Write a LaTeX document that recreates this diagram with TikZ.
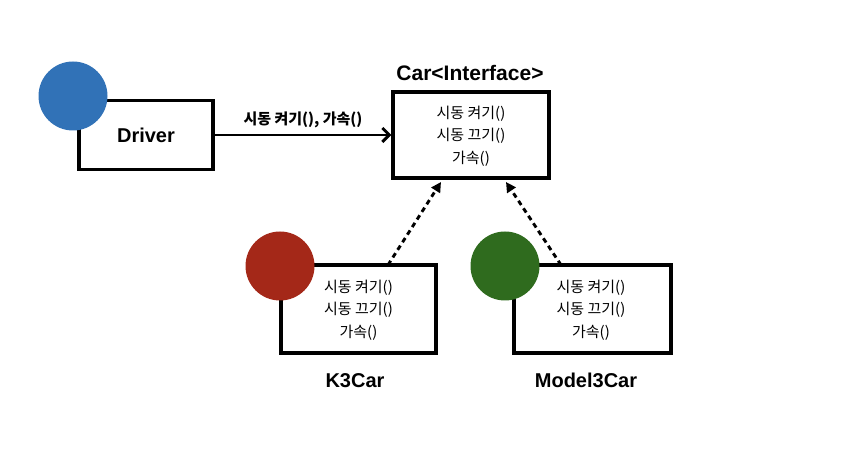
\documentclass[tikz,border=0pt]{standalone}
\usepackage{fontspec}
\setmainfont{Liberation Sans}
\newfontfamily\kr{Noto Sans CJK KR}
\usetikzlibrary{arrows.meta}
\definecolor{cblue}{HTML}{3172B7}
\definecolor{cred}{HTML}{A42818}
\definecolor{cgreen}{HTML}{2F6B1E}
\begin{document}
\begin{tikzpicture}[x=1pt,y=-1pt,
  box/.style={draw,line width=3.3pt,minimum width=#1,inner sep=0pt},
  dot/.style={circle,fill=#1,minimum size=69pt,inner sep=0pt},
  method/.style={font=\kr\fontsize{15}{22.5}\selectfont,align=center},
  title/.style={font=\bfseries\fontsize{20}{22}\selectfont},
  impl/.style={line width=2.9pt,dash pattern=on 5pt off 4pt,-{Triangle[length=10pt,width=10pt]}}]
\useasboundingbox (0,0) rectangle (852,454);
% Driver
\node[box=134pt,minimum height=69pt,title] (drv) at (146,135) {Driver};
\node[dot=cblue] (drvc) at (73,96) {};
% Car interface
\node[box=156pt,minimum height=86pt] (car) at (471,135) {};
\node[method] (carm) at (471,136) {시동 켜기()\\시동 끄기()\\가속()};
\node[title,anchor=base,font=\bfseries\fontsize{21}{22}\selectfont] (cart) at (470,81) {Car<Interface>};
% K3
\node[box=155pt,minimum height=88pt] (k3) at (358.5,309) {};
\node[method] (k3m) at (358.5,310) {시동 켜기()\\시동 끄기()\\가속()};
\node[dot=cred] (k3c) at (280,266) {};
\node[title,anchor=base] (k3t) at (355,388) {K3Car};
% Model3
\node[box=157pt,minimum height=88pt] (m3) at (592.5,309) {};
\node[method] (m3m) at (591,310) {시동 켜기()\\시동 끄기()\\가속()};
\node[dot=cgreen] (m3c) at (505,266) {};
\node[title,anchor=base] (m3t) at (586,388) {Model3Car};
% connectors
\draw[line width=2.9pt,-{Straight Barb[length=7pt,width=14pt,line width=2.9pt]}] (drv.east) -- (car.west)
  node[midway,above=2pt,font=\kr\bfseries\fontsize{15}{17}\selectfont] (lbl) {시동 켜기(), 가속()};
\coordinate (k3s) at (388,265);
\coordinate (k3e) at (441,182);
\coordinate (m3s) at (561,265);
\coordinate (m3e) at (506,182);
\draw[impl] (k3s) -- (k3e);
\draw[impl] (m3s) -- (m3e);
\end{tikzpicture}
\end{document}
